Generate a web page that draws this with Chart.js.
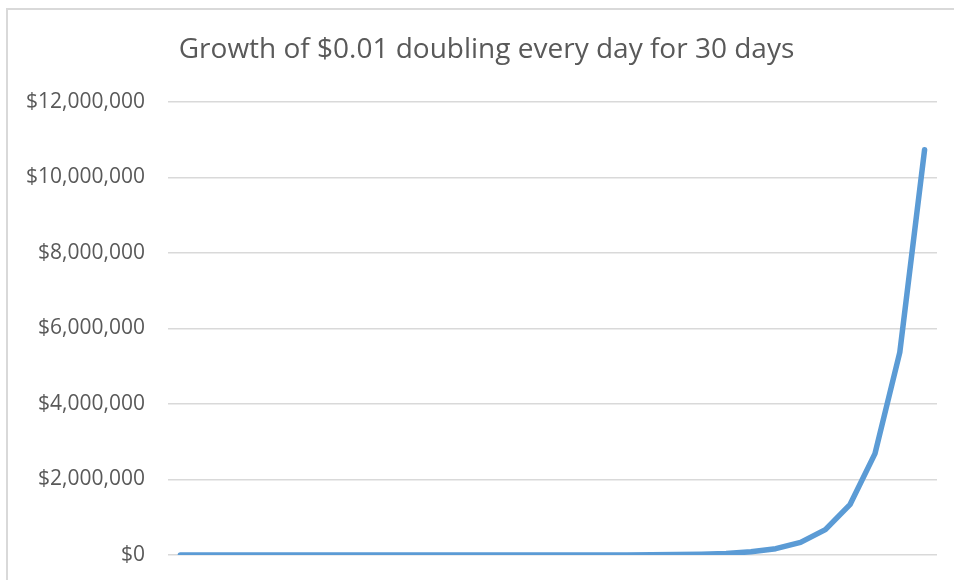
<!DOCTYPE html>
<html>
<head>
<meta charset="utf-8">
<title>Growth of $0.01</title>
<script src="https://cdn.jsdelivr.net/npm/chart.js@4"></script>
<style>
  html, body { margin: 0; padding: 0; background: #ffffff; }
  #wrap { position: relative; width: 954px; height: 580px; overflow: hidden; }
</style>
</head>
<body>
<div id="wrap"><canvas id="growth-chart"></canvas></div>
<script>
// day number and balance after doubling each day, starting at one cent
var days = [0, 1, 2, 3, 4, 5, 6, 7, 8, 9, 10, 11, 12, 13, 14, 15,
            16, 17, 18, 19, 20, 21, 22, 23, 24, 25, 26, 27, 28, 29, 30];
var balance = [0.01, 0.02, 0.04, 0.08, 0.16, 0.32, 0.64, 1.28, 2.56, 5.12,
               10.24, 20.48, 40.96, 81.92, 163.84, 327.68, 655.36, 1310.72,
               2621.44, 5242.88, 10485.76, 20971.52, 41943.04, 83886.08,
               167772.16, 335544.32, 671088.64, 1342177.28, 2684354.56,
               5368709.12, 10737418.24];
var yTicks = [0, 2000000, 4000000, 6000000, 8000000, 10000000, 12000000];
var chartTitle = 'Growth of $0.01 doubling every day for 30 days';

var textColor = '#595959';
var gridColor = '#d9d9d9';

// light frame around the chart, plus the title near the top
var framePlugin = {
    id: 'frame',
    beforeDraw: function(chart) {
        var ctx = chart.ctx;
        ctx.save();
        ctx.strokeStyle = '#d9d9d9';
        ctx.lineWidth = 2;
        ctx.strokeRect(7, 9, 1000, 1000);
        ctx.restore();
    },
    afterDraw: function(chart) {
        var ctx = chart.ctx;
        ctx.save();
        ctx.fillStyle = textColor;
        ctx.font = '28px "Open Sans"';
        ctx.textAlign = 'center';
        ctx.textBaseline = 'middle';
        ctx.fillText(chartTitle, chart.width / 2 + 9.5, 50);
        ctx.restore();
    }
};

function money(v) {
    return '$' + Math.round(v).toLocaleString('en-US');
}

var ctx = document.getElementById('growth-chart').getContext('2d');
window.growthChart = new Chart(ctx, {
    type: 'line',
    data: {
        labels: days,
        datasets: [{
            label: 'Balance',
            data: balance,
            borderColor: '#5b9bd5',
            backgroundColor: '#5b9bd5',
            borderWidth: 5.5,
            borderCapStyle: 'round',
            borderJoinStyle: 'round',
            pointRadius: 0,
            tension: 0,
            fill: false
        }]
    },
    options: {
        responsive: true,
        maintainAspectRatio: false,
        animation: false,
        layout: {
            padding: { left: 0, right: 17, top: 102, bottom: 25 }
        },
        plugins: {
            legend: { display: false },
            tooltip: { enabled: false },
            title: { display: false }
        },
        scales: {
            x: {
                display: false,
                offset: true
            },
            y: {
                min: 0,
                max: 12000000,
                afterBuildTicks: function(axis) {
                    axis.ticks = yTicks.map(function(v) { return { value: v }; });
                },
                afterFit: function(axis) {
                    axis.width = 168;
                },
                // invisible tick marks keep the labels clear of the grid
                grid: {
                    color: gridColor,
                    lineWidth: 1.5,
                    drawTicks: true,
                    tickLength: 23,
                    tickColor: 'rgba(0,0,0,0)'
                },
                border: { display: false },
                ticks: {
                    color: textColor,
                    padding: 0,
                    font: { family: 'Open Sans', size: 21 },
                    callback: function(v) { return money(v); }
                }
            }
        }
    },
    plugins: [framePlugin]
});
</script>
</body>
</html>
